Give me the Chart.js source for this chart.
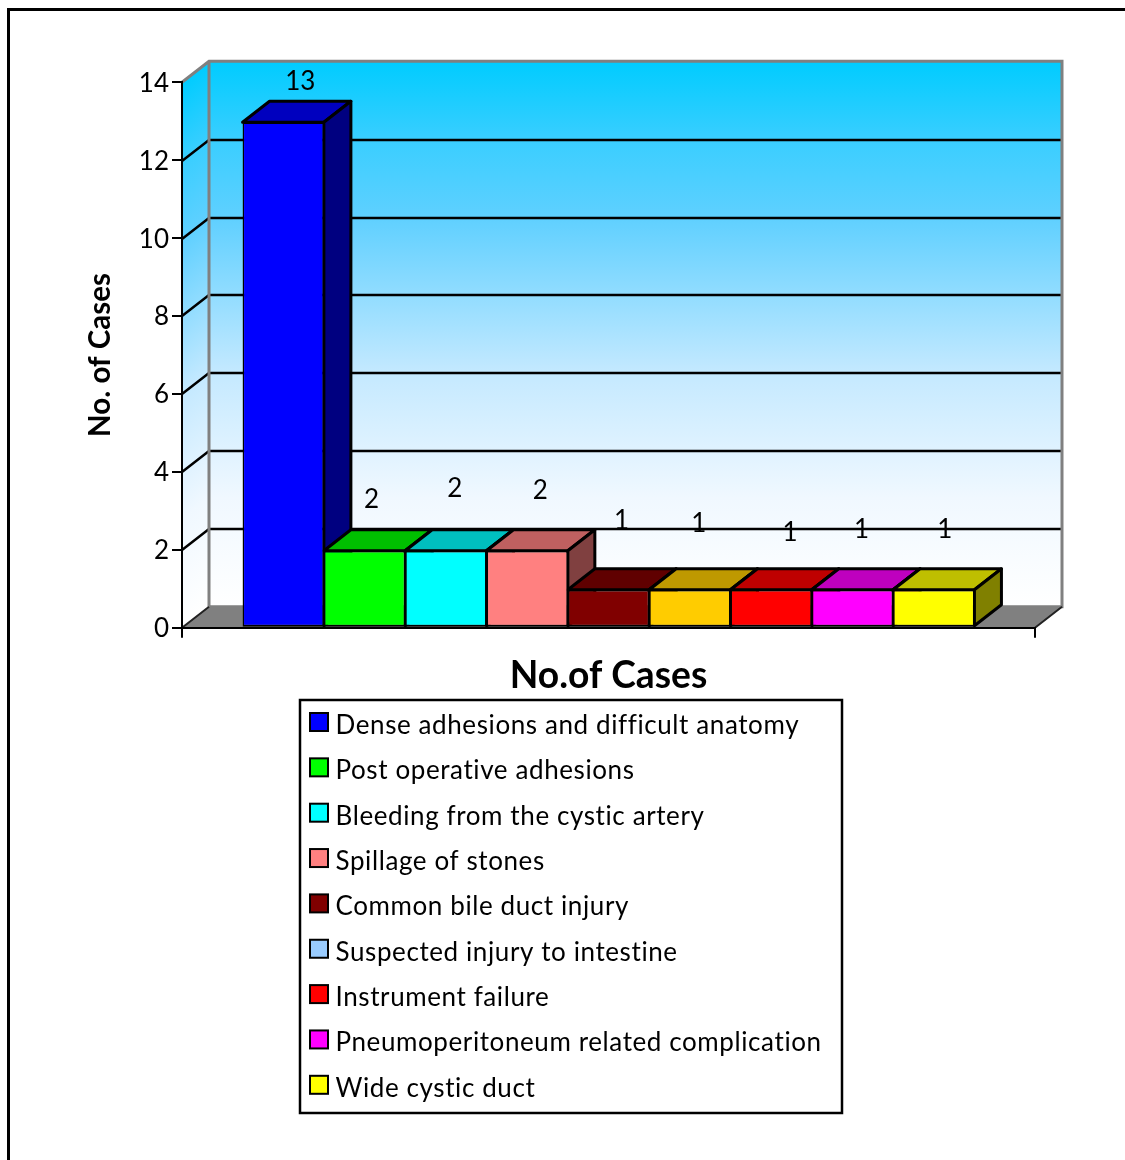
<!DOCTYPE html>
<html>
<head>
<meta charset="utf-8">
<title>No.of Cases</title>
<script src="https://cdn.jsdelivr.net/npm/chart.js@4/dist/chart.umd.min.js"></script>
<style>
  html, body { margin: 0; padding: 0; background: #fff; }
  canvas { display: block; }
</style>
</head>
<body>
<canvas id="myChart" width="1125" height="1160"></canvas>
<script>
const categories = [
  "Dense adhesions and difficult anatomy",
  "Post operative adhesions",
  "Bleeding from the cystic artery",
  "Spillage of stones",
  "Common bile duct injury",
  "Suspected injury to intestine",
  "Instrument failure",
  "Pneumoperitoneum related complication",
  "Wide cystic duct",
];
const cases = [13, 2, 2, 2, 1, 1, 1, 1, 1];
const barColors = ["#0000ff", "#00ff00", "#00ffff", "#ff8080", "#800000", "#ffcc00", "#ff0000", "#ff00ff", "#ffff00"];
const legendColors = ["#0000ff", "#00ff00", "#00ffff", "#ff8080", "#800000", "#99ccff", "#ff0000", "#ff00ff", "#ffff00"];
const yTicks = [0, 2, 4, 6, 8, 10, 12, 14];

// hand-placed value labels, offset from the top centre of each bar
const labelNudge = [[17, -40], [7, -50], [9, -61], [13, -59], [13, -68], [9, -65], [19, -56], [9, -59], [11, -59]];

const DEPTH_X = 27;
const DEPTH_Y = -21;
const FONT = "Lato, sans-serif";

function shade(hex, k) {
  const n = parseInt(hex.slice(1), 16);
  const r = Math.round(((n >> 16) & 255) * k);
  const g = Math.round(((n >> 8) & 255) * k);
  const b = Math.round((n & 255) * k);
  return `rgb(${r},${g},${b})`;
}

function poly(ctx, pts, fill, stroke, lw) {
  ctx.beginPath();
  pts.forEach((p, i) => (i ? ctx.lineTo(p[0], p[1]) : ctx.moveTo(p[0], p[1])));
  ctx.closePath();
  if (fill) {
    ctx.fillStyle = fill;
    ctx.fill();
  }
  if (stroke) {
    ctx.strokeStyle = stroke;
    ctx.lineWidth = lw;
    ctx.lineJoin = "round";
    ctx.stroke();
  }
}

// page frame, walls, floor and the gridlines behind the bars
const roomPlugin = {
  id: "room",
  beforeDraw(chart) {
    const { ctx, chartArea: a, scales } = chart;
    const y = scales.y;
    const bx = a.left + DEPTH_X;
    const rx = a.right + DEPTH_X;
    const ty = a.top + DEPTH_Y;
    const by = a.bottom + DEPTH_Y;
    ctx.save();

    ctx.strokeStyle = "#000";
    ctx.lineWidth = 3;
    ctx.beginPath();
    ctx.moveTo(8.5, 1160);
    ctx.lineTo(8.5, 9.5);
    ctx.lineTo(1125, 9.5);
    ctx.stroke();

    const grad = ctx.createLinearGradient(0, ty, 0, by);
    grad.addColorStop(0, "#00ccff");
    grad.addColorStop(0.14, "#38ceff");
    grad.addColorStop(0.29, "#60d0ff");
    grad.addColorStop(0.57, "#c4e9ff");
    grad.addColorStop(0.8, "#f0f8ff");
    grad.addColorStop(1, "#ffffff");
    ctx.fillStyle = grad;
    ctx.fillRect(bx, ty, rx - bx, by - ty);

    // side wall uses the same gradient, sheared along the depth
    ctx.save();
    ctx.beginPath();
    ctx.moveTo(a.left, a.top);
    ctx.lineTo(bx, ty);
    ctx.lineTo(bx, by);
    ctx.lineTo(a.left, a.bottom);
    ctx.closePath();
    ctx.clip();
    ctx.transform(1, DEPTH_Y / DEPTH_X, 0, 1, bx, ty);
    ctx.transform(1, 0, 0, 1, -bx, -ty);
    ctx.fillStyle = grad;
    ctx.fillRect(a.left - 5, ty - 60, DEPTH_X + 10, by - ty + 120);
    ctx.restore();

    poly(ctx, [[a.left, a.bottom], [bx, by], [rx, by], [a.right, a.bottom]], "#808080");

    ctx.strokeStyle = "#000";
    ctx.lineWidth = 2.5;
    yTicks.slice(1, -1).forEach((v) => {
      const py = Math.round(y.getPixelForValue(v) + 0.4);
      ctx.beginPath();
      ctx.moveTo(a.left, py);
      ctx.lineTo(bx, py + DEPTH_Y);
      ctx.lineTo(rx, py + DEPTH_Y);
      ctx.stroke();
    });

    ctx.strokeStyle = "#808080";
    ctx.lineWidth = 3;
    ctx.beginPath();
    ctx.moveTo(a.left, a.top);
    ctx.lineTo(bx, ty);
    ctx.lineTo(rx, ty);
    ctx.lineTo(rx, by);
    ctx.lineTo(bx, by);
    ctx.moveTo(bx, ty);
    ctx.lineTo(bx, by);
    ctx.stroke();

    ctx.strokeStyle = "#222";
    ctx.lineWidth = 2;
    ctx.beginPath();
    ctx.moveTo(a.right, a.bottom);
    ctx.lineTo(rx, by);
    ctx.moveTo(a.left, a.bottom);
    ctx.lineTo(bx, by);
    ctx.stroke();
    ctx.restore();
  },
  // top and right faces of each block, painted left to right under the fronts
  beforeDatasetsDraw(chart) {
    const { ctx } = chart;
    ctx.save();
    cases.forEach((_, i) => {
      const bar = chart.getDatasetMeta(i).data[0];
      const l = bar.x - bar.width / 2;
      const r = bar.x + bar.width / 2;
      const t = bar.y + 1;
      const b = bar.base - 1;
      const c = barColors[i];
      poly(ctx, [[l, t], [l + DEPTH_X, t + DEPTH_Y], [r + DEPTH_X, t + DEPTH_Y], [r, t]], shade(c, 0.75), "#000", 3);
      poly(ctx, [[r, t], [r + DEPTH_X, t + DEPTH_Y], [r + DEPTH_X, b + DEPTH_Y], [r, b]], shade(c, 0.5), "#000", 3);
    });
    ctx.restore();
  },
  afterDraw(chart) {
    const { ctx } = chart;
    ctx.save();

    // value labels
    ctx.font = "26px " + FONT;
    ctx.fillStyle = "#000";
    ctx.textAlign = "center";
    ctx.textBaseline = "middle";
    cases.forEach((v, i) => {
      const bar = chart.getDatasetMeta(i).data[0];
      ctx.fillText(String(v), bar.x + labelNudge[i][0], bar.y + labelNudge[i][1]);
    });

    // legend box in a single column
    const box = { x: 300, y: 700, w: 542, h: 413 };
    ctx.fillStyle = "#fff";
    ctx.fillRect(box.x, box.y, box.w, box.h);
    ctx.strokeStyle = "#000";
    ctx.lineWidth = 2.5;
    ctx.strokeRect(box.x, box.y, box.w, box.h);
    ctx.textAlign = "left";
    ctx.font = "26px " + FONT;
    ctx.letterSpacing = "0.6px";
    categories.forEach((name, i) => {
      const cy = box.y + 24 + i * 45.35;
      ctx.fillStyle = legendColors[i];
      ctx.fillRect(310, cy - 11, 18, 18);
      ctx.lineWidth = 2;
      ctx.strokeStyle = "#000";
      ctx.strokeRect(310, cy - 11, 18, 18);
      ctx.fillStyle = "#000";
      ctx.fillText(name, 335.5, cy + 1.5);
    });
    ctx.restore();
  },
};

new Chart(document.getElementById("myChart"), {
  type: "bar",
  data: {
    labels: ["No.of Cases"],
    datasets: categories.map((name, i) => ({
      label: name,
      data: [cases[i]],
      backgroundColor: barColors[i],
      borderColor: "#000",
      borderWidth: { top: 2.8, right: 1.5, bottom: 2, left: 1.5 },
      borderSkipped: false,
      categoryPercentage: 0.858,
      barPercentage: 1,
    })),
  },
  options: {
    responsive: false,
    animation: false,
    layout: { padding: { left: 83, right: 90, top: 82.3, bottom: 462 } },
    plugins: {
      legend: { display: false },
      tooltip: { enabled: false },
    },
    scales: {
      x: {
        afterFit: (scale) => {
          scale.height = 70.3;
        },
        ticks: { display: false },
        grid: { drawOnChartArea: false, tickLength: 10, color: "#000", lineWidth: 2 },
        border: { color: "#000", width: 2 },
        title: {
          display: true,
          text: "No.of Cases",
          color: "#000",
          font: { family: FONT, size: 37.2, weight: "bold" },
          padding: 0,
        },
      },
      y: {
        min: 0,
        max: 14,
        afterFit: (scale) => {
          scale.width = 99;
        },
        afterBuildTicks: (scale) => {
          scale.ticks = yTicks.map((v) => ({ value: v }));
        },
        ticks: { color: "#000", font: { family: FONT, size: 26 }, padding: 3, labelOffset: 1 },
        grid: { drawOnChartArea: false, tickLength: 10, color: "#000", lineWidth: 2 },
        border: { color: "#000", width: 2 },
        title: {
          display: true,
          text: "No. of Cases",
          color: "#000",
          font: { family: FONT, size: 29.5, weight: "bold" },
          padding: 0,
        },
      },
    },
  },
  plugins: [roomPlugin],
});
</script>
</body>
</html>
